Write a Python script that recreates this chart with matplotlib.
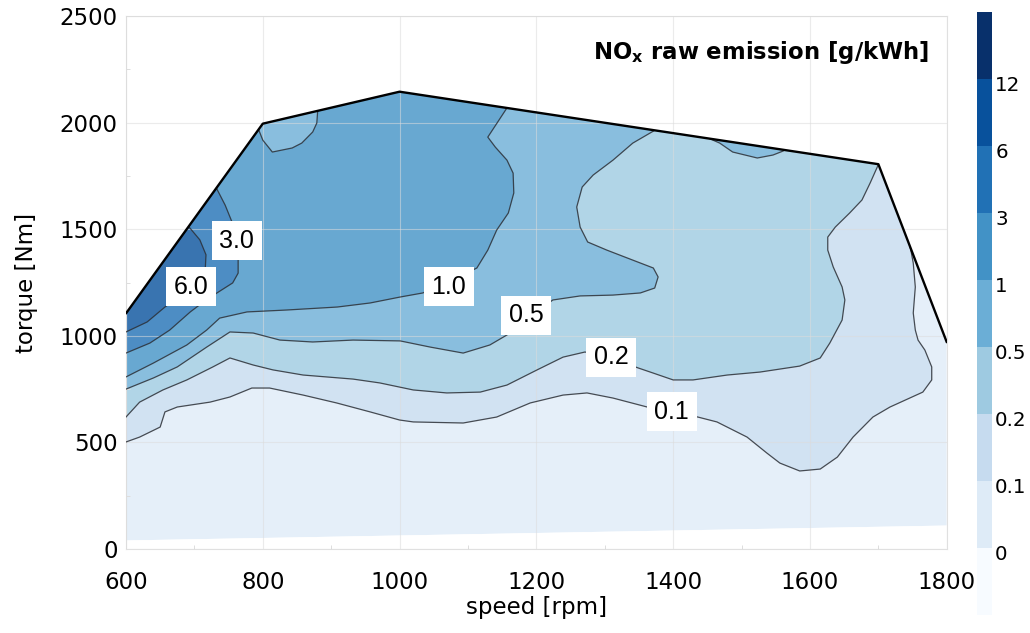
import numpy as np
import matplotlib
matplotlib.use("Agg")
import matplotlib.pyplot as plt
from matplotlib.colors import ListedColormap, BoundaryNorm, to_rgb
from matplotlib.patches import Polygon
from matplotlib.transforms import ScaledTranslation
from matplotlib.cm import ScalarMappable
from matplotlib.ticker import MultipleLocator, NullLocator

plt.rcParams['font.family'] = ['DejaVu Sans']

# ---------------- data ----------------
# full-load curve (upper boundary of the map)
fl_speed = [600, 800, 1000, 1700, 1800]
fl_torque = [1105, 1995, 2145, 1805, 970]
# lower boundary of the map
low_speed = [600, 1800]
low_torque = [40, 110]

# contour lines  (speed [rpm], torque [Nm])
c01_speed = [600, 620, 650, 657, 675, 723, 752, 784, 810, 859, 908, 957, 1000, 1020, 1093,
             1142, 1191, 1239, 1274, 1312, 1362, 1398, 1436, 1464, 1508, 1537, 1556, 1585,
             1615, 1640, 1663, 1692, 1717, 1765, 1778, 1778, 1768, 1758, 1754, 1751, 1754,
             1751, 1748, 1739]
c01_torque = [502, 525, 572, 643, 666, 689, 713, 755, 755, 722, 685, 643, 605, 596, 591,
              619, 685, 722, 732, 708, 666, 643, 619, 596, 525, 450, 403, 366,
              375, 431, 525, 619, 666, 736, 793, 854, 933, 980, 1027, 1107, 1229,
              1341, 1393, 1520]

c02_speed = [600, 620, 654, 689, 727, 752, 786, 815, 859, 932, 971, 1020, 1069, 1118, 1157,
             1201, 1239, 1271, 1310, 1349, 1371, 1400, 1429, 1479, 1527, 1585, 1615, 1629,
             1647, 1651, 1647, 1634, 1626, 1626, 1637, 1658, 1676, 1688, 1699, 1702]
c02_torque = [619, 689, 746, 793, 854, 896, 863, 840, 816, 797, 779, 746, 732, 736, 769,
              840, 900, 924, 896, 849, 825, 793, 793, 816, 830, 858, 896, 966,
              1074, 1168, 1229, 1323, 1402, 1463, 1510, 1576, 1637, 1717, 1796, 1871]

c05_speed = [600, 640, 675, 718, 752, 786, 825, 873, 932, 1001, 1045, 1093, 1132, 1157, 1191,
             1224, 1264, 1312, 1352, 1373, 1378, 1371, 1341, 1303, 1275, 1264, 1259, 1267,
             1283, 1312, 1341, 1371, 1392]
c05_torque = [750, 802, 854, 947, 1018, 1013, 980, 971, 980, 976, 947, 919, 957, 1004, 1088,
              1168, 1187, 1191, 1201, 1224, 1276, 1318, 1355, 1402, 1440, 1510, 1604, 1698,
              1754, 1824, 1904, 1960, 2003]

c1_speed = [600, 640, 689, 718, 737, 777, 835, 909, 957, 1001, 1034, 1074, 1113, 1129, 1142,
            1159, 1167, 1166, 1157, 1140, 1129, 1156, 1164]
c1_torque = [807, 872, 957, 1027, 1083, 1112, 1121, 1135, 1154, 1182, 1201, 1257, 1318, 1402,
             1496, 1576, 1670, 1763, 1824, 1885, 1932, 2064, 2111]

c3_speed = [600, 635, 664, 694, 713, 733, 756, 764, 764, 759, 755, 745, 733, 723]
c3_torque = [919, 966, 1027, 1112, 1158, 1201, 1248, 1294, 1365, 1449, 1534, 1613, 1688, 1749]

c6_speed = [600, 631, 657, 694, 716, 717, 708, 691, 679]
c6_torque = [1018, 1065, 1135, 1215, 1318, 1380, 1450, 1515, 1580]

# islands of 0.5 - 1 g/kWh near the full-load curve
isl_a_speed = [787, 793, 800, 814, 843, 857, 873, 879, 881]
isl_a_torque = [2021, 1975, 1918, 1862, 1881, 1904, 1956, 1998, 2087]
isl_b_speed = [1444, 1451, 1468, 1487, 1523, 1546, 1561, 1571]
isl_b_torque = [1965, 1928, 1904, 1862, 1834, 1848, 1867, 1909]

# inline contour labels
label_text = ['3.0', '6.0', '1.0', '0.5', '0.2', '0.1']
label_speed = [762, 695, 1072, 1185, 1309, 1398]
label_torque = [1445, 1229, 1229, 1097, 900, 643]

# colour scale
cbar_bounds = [-0.1, 0, 0.1, 0.2, 0.5, 1, 3, 6, 12, 24]
cbar_ticks = [0, 0.1, 0.2, 0.5, 1, 3, 6, 12]
cbar_ticklabels = ['0', '0.1', '0.2', '0.5', '1', '3', '6', '12']
band_colors = ['#f7fbff', '#deebf7', '#c6dbef', '#9ecae1', '#6baed6',
               '#4292c6', '#2171b5', '#08519c', '#08306b']

x_ticks = [600, 800, 1000, 1200, 1400, 1600, 1800]
y_ticks = [0, 500, 1000, 1500, 2000, 2500]


def soften(c, a=0.8):
    r = np.array(to_rgb(c))
    return tuple(a * r + (1 - a))


soft = [soften(c) for c in band_colors]

OUT_LEFT, OUT_TOP = 500, 2700


def upper_region(s, t):
    xs = [OUT_LEFT] + list(s) + [s[-1], OUT_LEFT]
    ys = [t[0]] + list(t) + [OUT_TOP, OUT_TOP]
    return np.column_stack([xs, ys])


# ---------------- figure ----------------
fig = plt.figure(figsize=(10.3, 6.33), dpi=100)
ax = fig.add_axes([0.1223, 0.1327, 0.7969, 0.842])
ax.set_xlim(600, 1800)
ax.set_ylim(0, 2500)

domain_xy = np.column_stack([fl_speed + low_speed[::-1], fl_torque + low_torque[::-1]])
clip = Polygon(domain_xy, closed=True, transform=ax.transData)


def add_fill(xy, color):
    p = Polygon(xy, closed=True, fc=color, ec='none', lw=0, zorder=1)
    ax.add_patch(p)
    p.set_clip_path(clip)


add_fill(domain_xy, soft[1])
add_fill(upper_region(c01_speed, c01_torque), soft[2])
add_fill(upper_region(c02_speed, c02_torque), soft[3])
add_fill(upper_region(c05_speed, c05_torque), soft[4])
add_fill(np.column_stack([isl_b_speed, isl_b_torque]), soft[4])
add_fill(upper_region(c1_speed, c1_torque), soft[5])
add_fill(np.column_stack([isl_a_speed, isl_a_torque]), soft[4])
add_fill(upper_region(c3_speed, c3_torque), soft[6])
add_fill(upper_region(c6_speed, c6_torque), soft[7])

for s, t in [(c01_speed, c01_torque), (c02_speed, c02_torque), (c05_speed, c05_torque),
             (c1_speed, c1_torque), (c3_speed, c3_torque), (c6_speed, c6_torque),
             (isl_a_speed, isl_a_torque), (isl_b_speed, isl_b_torque)]:
    ln, = ax.plot(s, t, color='#2b2f36', lw=0.9, alpha=0.85, zorder=3)
    ln.set_clip_path(clip)

ax.plot(fl_speed, fl_torque, color='black', lw=1.7, zorder=4, solid_capstyle='round')

for txt, s, t in zip(label_text, label_speed, label_torque):
    ax.text(s, t, txt, ha='center', va='center', fontsize=18, family='Liberation Sans',
            zorder=6, bbox=dict(boxstyle='square,pad=0.3', fc='white', ec='none'))

ax.text(1774, 2297, r'NO$_\mathbf{x}$ raw emission [g/kWh]', ha='right', va='baseline',
        fontsize=16.4, fontweight='bold', zorder=6)

# axes styling
ax.set_xticks(x_ticks)
ax.set_yticks(y_ticks)
ax.xaxis.set_minor_locator(MultipleLocator(100))
ax.yaxis.set_minor_locator(MultipleLocator(250))
ax.grid(True, which='major', color='#dcdcdc', lw=0.8, alpha=0.55)
ax.set_axisbelow(False)
ax.tick_params(which='major', length=0, labelsize=16.5)
ax.tick_params(axis='x', which='major', pad=16)
ax.tick_params(axis='y', which='major', pad=6)
ax.tick_params(which='minor', direction='in', length=3, color='#dddddd', width=0.7)
for sp in ax.spines.values():
    sp.set_color('#e0e0e0')
    sp.set_linewidth(0.8)

ax.set_xlabel('speed [rpm]', fontsize=16.5)
ax.xaxis.set_label_coords(0.5, -0.088)
ax.set_ylabel('torque [Nm]', fontsize=16.5)
ax.yaxis.set_label_coords(-0.1072, 0.5)

# colour bar
cax = fig.add_axes([0.9485, 0.0284, 0.0150, 0.9526])
cmap = ListedColormap(band_colors)
norm = BoundaryNorm(cbar_bounds, cmap.N)
cb = fig.colorbar(ScalarMappable(norm=norm, cmap=cmap), cax=cax, spacing='uniform',
                  ticks=cbar_ticks)
cb.set_ticklabels(cbar_ticklabels)
cb.outline.set_visible(False)
cb.minorticks_off()
cax.yaxis.set_minor_locator(NullLocator())
cax.tick_params(length=0, labelsize=14.3, pad=2)
off = ScaledTranslation(0, -0.04, fig.dpi_scale_trans)
for lab in cax.get_yticklabels():
    lab.set_transform(lab.get_transform() + off)

fig.savefig('out.png', dpi=100)
